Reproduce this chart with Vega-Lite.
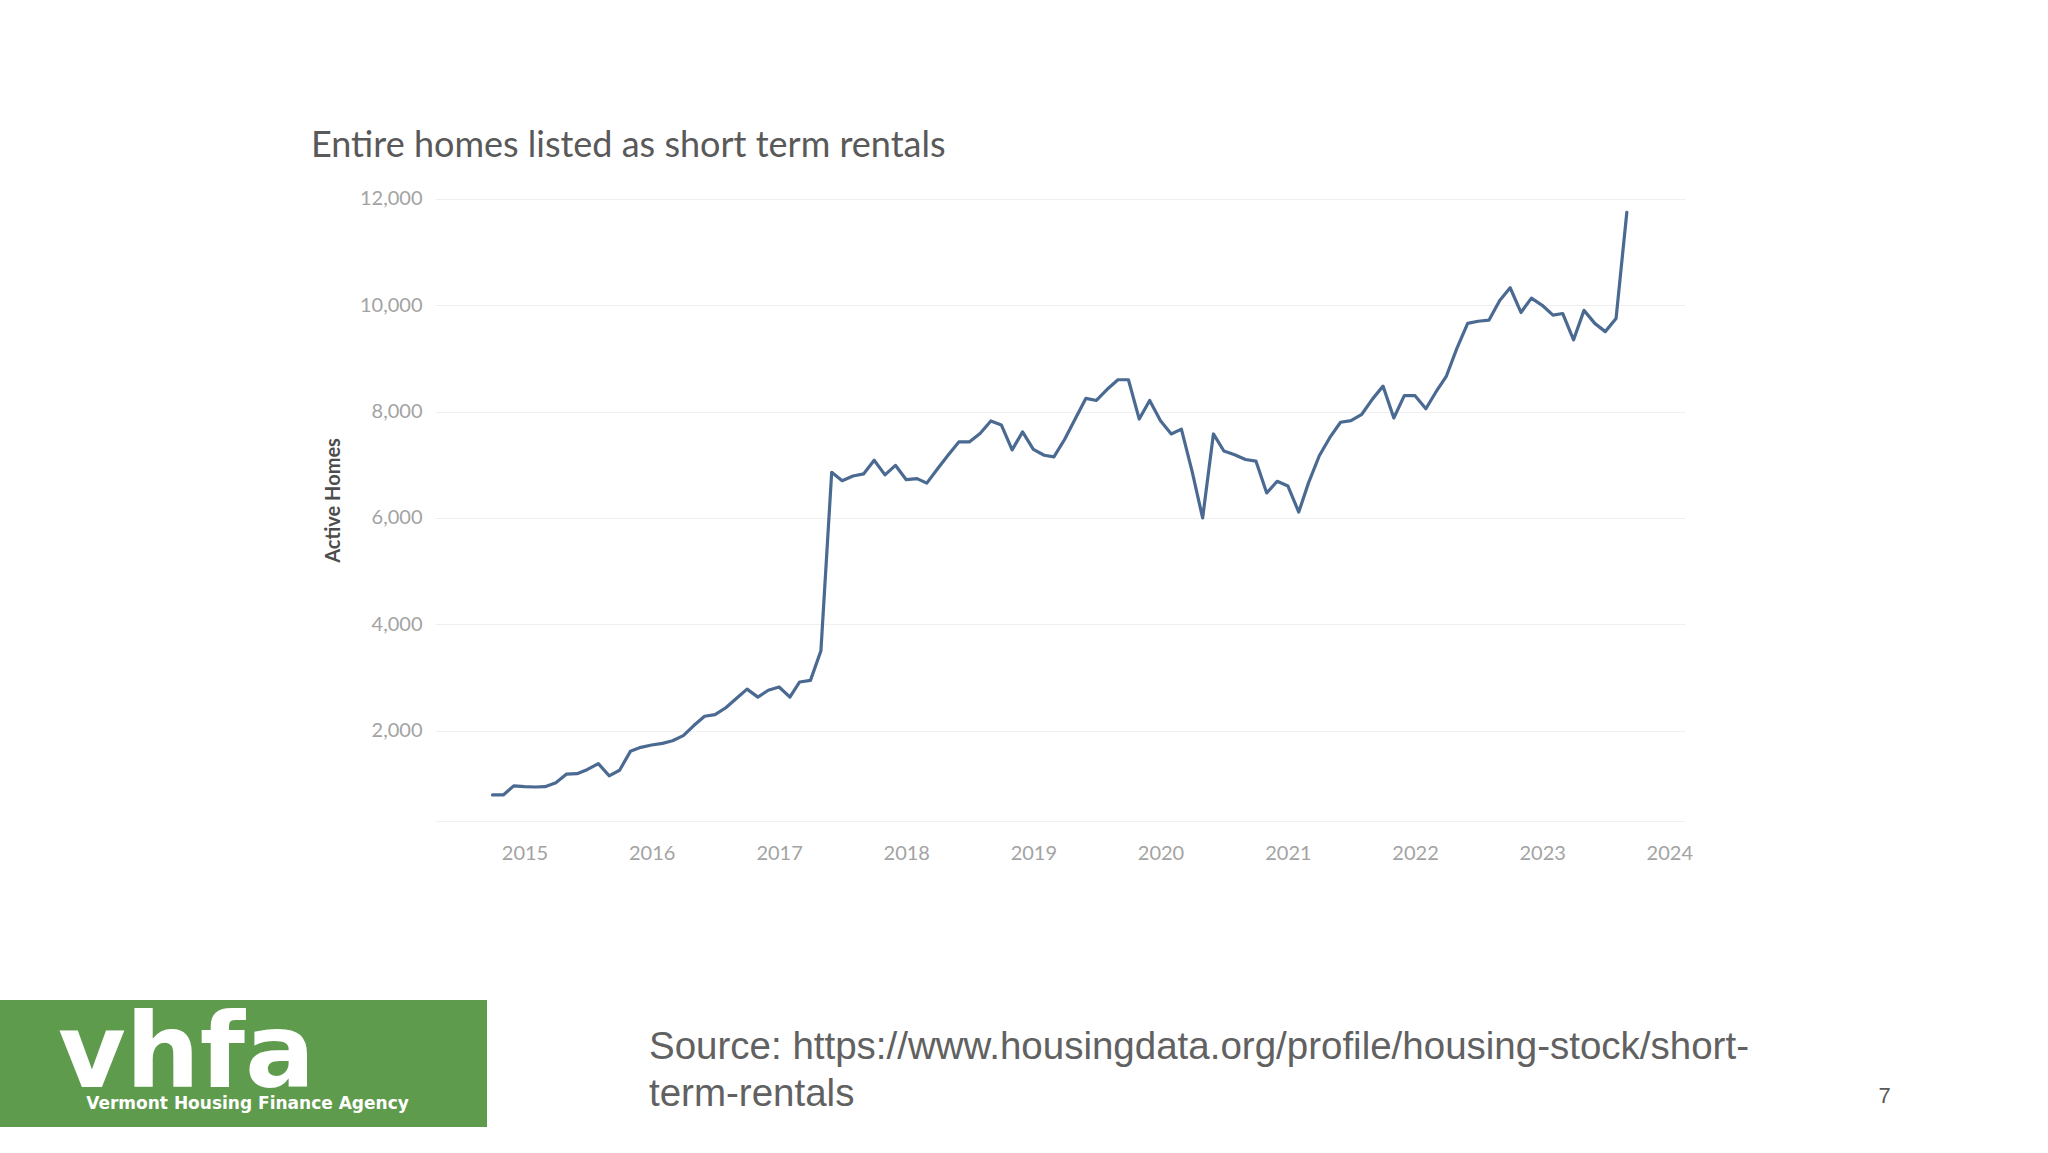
{
  "$schema": "https://vega.github.io/schema/vega-lite/v6.json",
  "padding": 0,
  "autosize": {"type": "pad"},
  "background": "white",
  "config": {"view": {"stroke": null}},
  "bounds": "flush",
  "align": "each",
  "spacing": 0,
  "columns": 3,
  "concat": [
    {"width": 435, "height": 191, "data": {"values": [{}]}, "mark": {"type": "text", "text": ""}},
    {"width": 1250, "height": 191, "data": {"values": [{}]}, "mark": {"type": "text", "text": ""}},
    {"width": 363, "height": 191, "data": {"values": [{}]}, "mark": {"type": "text", "text": ""}},

    {"width": 435, "height": 630, "data": {"values": [{}]}, "mark": {"type": "text", "text": ""}},
    {
      "width": 1250,
      "height": 630,
      "title": {"text": "Entire homes listed as short term rentals", "anchor": "start", "frame": "group", "dx": -124, "offset": -4, "baseline": "alphabetic", "font": "Lato", "fontSize": 36, "fontWeight": "normal", "color": "#595959"},
      "data": {"values": [
        {"month": "2014-10-01", "homes": 790},
        {"month": "2014-11-01", "homes": 790},
        {"month": "2014-12-01", "homes": 960},
        {"month": "2015-01-01", "homes": 945},
        {"month": "2015-02-01", "homes": 940},
        {"month": "2015-03-01", "homes": 945},
        {"month": "2015-04-01", "homes": 1020},
        {"month": "2015-05-01", "homes": 1180},
        {"month": "2015-06-01", "homes": 1190},
        {"month": "2015-07-01", "homes": 1270},
        {"month": "2015-08-01", "homes": 1380},
        {"month": "2015-09-01", "homes": 1150},
        {"month": "2015-10-01", "homes": 1255},
        {"month": "2015-11-01", "homes": 1610},
        {"month": "2015-12-01", "homes": 1685},
        {"month": "2016-01-01", "homes": 1730},
        {"month": "2016-02-01", "homes": 1760},
        {"month": "2016-03-01", "homes": 1810},
        {"month": "2016-04-01", "homes": 1905},
        {"month": "2016-05-01", "homes": 2095},
        {"month": "2016-06-01", "homes": 2270},
        {"month": "2016-07-01", "homes": 2300},
        {"month": "2016-08-01", "homes": 2430},
        {"month": "2016-09-01", "homes": 2610},
        {"month": "2016-10-01", "homes": 2780},
        {"month": "2016-11-01", "homes": 2630},
        {"month": "2016-12-01", "homes": 2760},
        {"month": "2017-01-01", "homes": 2820},
        {"month": "2017-02-01", "homes": 2630},
        {"month": "2017-03-01", "homes": 2915},
        {"month": "2017-04-01", "homes": 2945},
        {"month": "2017-05-01", "homes": 3500},
        {"month": "2017-06-01", "homes": 6860},
        {"month": "2017-07-01", "homes": 6700},
        {"month": "2017-08-01", "homes": 6790},
        {"month": "2017-09-01", "homes": 6830},
        {"month": "2017-10-01", "homes": 7085},
        {"month": "2017-11-01", "homes": 6810},
        {"month": "2017-12-01", "homes": 6990},
        {"month": "2018-01-01", "homes": 6720},
        {"month": "2018-02-01", "homes": 6740},
        {"month": "2018-03-01", "homes": 6655},
        {"month": "2018-04-01", "homes": 6925},
        {"month": "2018-05-01", "homes": 7180},
        {"month": "2018-06-01", "homes": 7430},
        {"month": "2018-07-01", "homes": 7430},
        {"month": "2018-08-01", "homes": 7590},
        {"month": "2018-09-01", "homes": 7825},
        {"month": "2018-10-01", "homes": 7750},
        {"month": "2018-11-01", "homes": 7280},
        {"month": "2018-12-01", "homes": 7620},
        {"month": "2019-01-01", "homes": 7290},
        {"month": "2019-02-01", "homes": 7180},
        {"month": "2019-03-01", "homes": 7150},
        {"month": "2019-04-01", "homes": 7480},
        {"month": "2019-05-01", "homes": 7860},
        {"month": "2019-06-01", "homes": 8250},
        {"month": "2019-07-01", "homes": 8210},
        {"month": "2019-08-01", "homes": 8420},
        {"month": "2019-09-01", "homes": 8600},
        {"month": "2019-10-01", "homes": 8600},
        {"month": "2019-11-01", "homes": 7860},
        {"month": "2019-12-01", "homes": 8210},
        {"month": "2020-01-01", "homes": 7830},
        {"month": "2020-02-01", "homes": 7580},
        {"month": "2020-03-01", "homes": 7670},
        {"month": "2020-04-01", "homes": 6870},
        {"month": "2020-05-01", "homes": 6000},
        {"month": "2020-06-01", "homes": 7580},
        {"month": "2020-07-01", "homes": 7260},
        {"month": "2020-08-01", "homes": 7190},
        {"month": "2020-09-01", "homes": 7100},
        {"month": "2020-10-01", "homes": 7070},
        {"month": "2020-11-01", "homes": 6470},
        {"month": "2020-12-01", "homes": 6690},
        {"month": "2021-01-01", "homes": 6600},
        {"month": "2021-02-01", "homes": 6110},
        {"month": "2021-03-01", "homes": 6660},
        {"month": "2021-04-01", "homes": 7170},
        {"month": "2021-05-01", "homes": 7510},
        {"month": "2021-06-01", "homes": 7800},
        {"month": "2021-07-01", "homes": 7830},
        {"month": "2021-08-01", "homes": 7950},
        {"month": "2021-09-01", "homes": 8240},
        {"month": "2021-10-01", "homes": 8480},
        {"month": "2021-11-01", "homes": 7880},
        {"month": "2021-12-01", "homes": 8300},
        {"month": "2022-01-01", "homes": 8300},
        {"month": "2022-02-01", "homes": 8055},
        {"month": "2022-03-01", "homes": 8360},
        {"month": "2022-04-01", "homes": 8670},
        {"month": "2022-05-01", "homes": 9190},
        {"month": "2022-06-01", "homes": 9660},
        {"month": "2022-07-01", "homes": 9700},
        {"month": "2022-08-01", "homes": 9720},
        {"month": "2022-09-01", "homes": 10090},
        {"month": "2022-10-01", "homes": 10330},
        {"month": "2022-11-01", "homes": 9865},
        {"month": "2022-12-01", "homes": 10135},
        {"month": "2023-01-01", "homes": 10000},
        {"month": "2023-02-01", "homes": 9815},
        {"month": "2023-03-01", "homes": 9845},
        {"month": "2023-04-01", "homes": 9350},
        {"month": "2023-05-01", "homes": 9905},
        {"month": "2023-06-01", "homes": 9660},
        {"month": "2023-07-01", "homes": 9505},
        {"month": "2023-08-01", "homes": 9750},
        {"month": "2023-09-01", "homes": 11750}
      ]},
      "mark": {"type": "line", "color": "#4b6a92", "strokeWidth": 3.2, "strokeJoin": "round", "strokeCap": "round"},
      "encoding": {
        "x": {
          "field": "month", "type": "temporal",
          "scale": {"type": "utc", "domain": [{"year": 2014, "month": 4, "date": 19, "utc": true}, {"year": 2024, "month": 2, "date": 15, "utc": true}]},
          "axis": {"format": "%Y", "tickCount": {"interval": "year", "step": 1}, "grid": false, "ticks": false, "domain": true, "domainColor": "#f0f0f0", "labelFont": "Lato", "labelFontSize": 20, "labelColor": "#a3a3a3", "labelPadding": 22, "title": null, "labelFlush": false, "labelOverlap": false}
        },
        "y": {
          "field": "homes", "type": "quantitative",
          "scale": {"domain": [300, 12150], "nice": false, "zero": false},
          "axis": {"values": [2000, 4000, 6000, 8000, 10000, 12000], "format": ",.0f", "grid": true, "gridColor": "#efefef", "gridWidth": 1, "domain": false, "ticks": false, "labelFont": "Lato", "labelFontSize": 20, "labelColor": "#a3a3a3", "labelPadding": 13, "title": "Active Homes", "titleFont": "Lato", "titleFontSize": 20, "titleFontWeight": "bold", "titleColor": "#4d4d4d", "titleX": -102, "titleY": 309, "titleAngle": 270, "titleAlign": "center", "titleBaseline": "middle"}
        }
      }
    },
    {"width": 1, "height": 630, "data": {"values": [{}]}, "mark": {"type": "text", "text": ""}},

    {"width": 1, "height": 179, "data": {"values": [{}]}, "mark": {"type": "text", "text": ""}},
    {"width": 1, "height": 179, "data": {"values": [{}]}, "mark": {"type": "text", "text": ""}},
    {"width": 1, "height": 179, "data": {"values": [{}]}, "mark": {"type": "text", "text": ""}},

    {
      "width": 435, "height": 127,
      "view": {"fill": "#5f9b4c", "stroke": null},
      "data": {"values": [{}]},
      "layer": [
        {"mark": {"type": "text", "text": "vhfa", "font": "DejaVu Sans", "fontWeight": "bold", "fontSize": 104, "color": "white", "align": "center", "baseline": "alphabetic", "dx": -31, "dy": 23}},
        {"mark": {"type": "text", "text": "Vermont Housing Finance Agency", "font": "DejaVu Sans", "fontWeight": "bold", "fontSize": 17, "color": "white", "align": "center", "baseline": "middle", "dx": 30, "dy": 40}}
      ]
    },
    {
      "width": 52, "height": 127,
      "view": {"fill": "#5f9b4c", "stroke": null},
      "data": {"values": [{}]},
      "mark": {"type": "text", "text": ["Source: https://www.housingdata.org/profile/housing-stock/short-", "term-rentals"], "font": "Liberation Sans", "fontSize": 38.5, "lineHeight": 47, "color": "#616161", "align": "left", "baseline": "alphabetic", "dx": 188, "dy": -5}
    },
    {
      "width": 363, "height": 127,
      "data": {"values": [{}]},
      "mark": {"type": "text", "text": "7", "font": "Liberation Sans", "fontSize": 22, "color": "#595959", "align": "center", "baseline": "middle", "dx": 18, "dy": 32}
    }
  ]
}
